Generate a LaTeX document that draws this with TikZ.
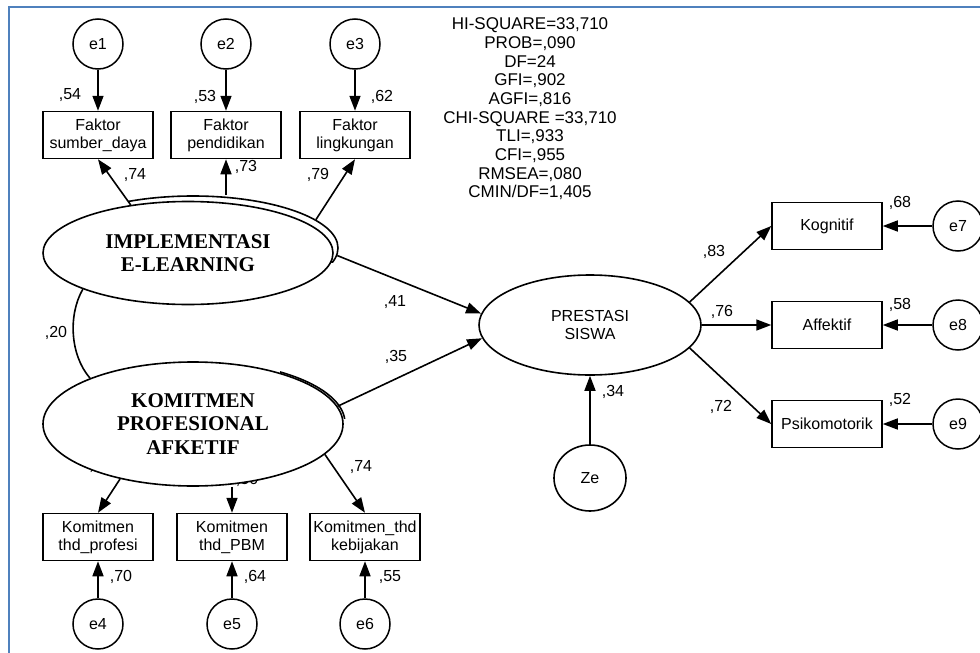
\documentclass[tikz,border=0pt]{standalone}
\usepackage{fontspec}
\setmainfont{Liberation Sans}
\newfontfamily\serifbf{Liberation Serif}
\usetikzlibrary{arrows.meta,shapes.geometric}
\definecolor{frameblue}{RGB}{79,129,189}
\begin{document}
\begin{tikzpicture}[x=1pt,y=-1pt,
 obs/.style={draw,line width=1.5pt,rectangle,minimum width=110pt,minimum height=47pt,inner sep=0pt,align=center,font=\fontsize{16}{18}\selectfont},
 err/.style={draw,line width=1.5pt,circle,minimum size=50pt,inner sep=0pt,font=\fontsize{16}{18}\selectfont},
 lat/.style={draw,line width=1.6pt,ellipse,inner sep=0pt,align=center,fill=white},
 latfont/.style={font=\serifbf\bfseries\fontsize{21}{23.5}\selectfont},
 lab/.style={font=\fontsize{16}{18}\selectfont,inner sep=0pt},
 arr/.style={line width=1.6pt,-{Triangle[length=15pt,width=11pt]}},
 con/.style={line width=1.6pt},
]
\useasboundingbox (0,0) rectangle (980,653);
\draw[frameblue,line width=2.5pt] (9,653) -- (9,7) -- (980,7);

% statistics
\node[align=center,inner sep=0pt,font=\fontsize{17}{18.67}\selectfont] (stats) at (530,109)
 {HI-SQUARE=33,710\\PROB=,090\\DF=24\\GFI=,902\\AGFI=,816\\CHI-SQUARE =33,710\\TLI=,933\\CFI=,955\\RMSEA=,080\\CMIN/DF=1,405};

% labels partly hidden under the KOMITMEN ellipse
\node[lab,anchor=base west] (h1) at (89,470) {,84};
\node[lab,anchor=base] (h2) at (247,484) {,56};

% error terms
\node[err] (e1) at (98,44) {e1};
\node[err] (e2) at (226,44) {e2};
\node[err] (e3) at (355,44) {e3};
\node[err] (e4) at (98,624) {e4};
\node[err] (e5) at (232,624) {e5};
\node[err] (e6) at (365,624) {e6};
\node[err] (e7) at (958,226) {e7};
\node[err] (e8) at (958,325) {e8};
\node[err] (e9) at (958,424) {e9};

% observed variables
\node[obs] (b1) at (98,135) {Faktor\\sumber\_daya};
\node[obs] (b2) at (226,135) {Faktor\\pendidikan};
\node[obs] (b3) at (355,135) {Faktor\\lingkungan};
\node[obs] (b4) at (98,537) {Komitmen\\thd\_profesi};
\node[obs] (b5) at (232,537) {Komitmen\\thd\_PBM};
\node[obs] (b6) at (365,537) {Komitmen\_thd\\kebijakan};
\node[obs] (kog) at (827,226) {Kognitif};
\node[obs] (aff) at (827,325) {Affektif};
\node[obs] (psi) at (827,424) {Psikomotorik};

% latent variables
\begin{scope}
\clip (128,180) rectangle (345,262);
\node[lat,fill=none,minimum width=290pt,minimum height=104pt] (implB) at (193,248) {};
\end{scope}
\node[lat,latfont,minimum width=290pt,minimum height=103pt] (impl) at (188,253) {IMPLEMENTASI\\E-LEARNING};
\begin{scope}
\clip (280,350) rectangle (350,418);
\node[lat,fill=none,minimum width=300pt,minimum height=124pt] (komitB) at (195,423) {};
\end{scope}
\node[lat,latfont,minimum width=300pt,minimum height=124pt] (komit) at (193,424) {KOMITMEN\\PROFESIONAL\\AFKETIF};
\node[lat,font=\fontsize{16}{18}\selectfont,minimum width=222pt,minimum height=100pt] (prest) at (590,325) {PRESTASI\\SISWA};
\node[lat,font=\fontsize{16}{18}\selectfont,minimum width=72pt,minimum height=66pt] (ze) at (590,478) {Ze};

% error arrows
\draw[arr] (e1) -- (b1);
\draw[arr] (e2) -- (b2);
\draw[arr] (e3) -- (b3);
\draw[arr] (e4) -- (b4);
\draw[arr] (e5) -- (b5);
\draw[arr] (e6) -- (b6);
\draw[arr] (e7) -- (kog);
\draw[arr] (e8) -- (aff);
\draw[arr] (e9) -- (psi);
\draw[arr] (ze) -- (prest);

% loadings
\draw[arr] (impl.140) -- (b1.south);
\draw[arr] (b2.south |- implB.north) -- (b2.south);
\draw[arr] (implB.13) -- (b3.south);
\draw[arr] (komit.217) -- (b4.north);
\draw[arr] (b5.north |- komit.south) -- (b5.north);
\draw[arr] (komit.-13) -- (b6.north);
\draw[arr] (prest.13) -- (kog.west);
\draw[arr] (prest.east) -- (aff.west);
\draw[arr] (prest.-13) -- (psi.west);

% structural paths
\draw[arr] (implB.-3) -- (prest.174);
\draw[arr] (komit.7) -- (prest.187);

% covariance
\draw[con] (impl.199) .. controls (68,315) and (70,355) .. (komit.156);

% labels
\node[lab] (l54) at (70,95) {,54};
\node[lab] (l53) at (205,97) {,53};
\node[lab] (l62) at (382,97) {,62};
\node[lab] (l74a) at (135,175) {,74};
\node[lab] (l73) at (246,167) {,73};
\node[lab] (l79) at (318,175) {,79};
\node[lab] (l41) at (395,302) {,41};
\node[lab] (l35) at (396,357) {,35};
\node[lab] (l20) at (56,333) {,20};
\node[lab] (l74b) at (361,467) {,74};
\node[lab] (l70) at (121,577) {,70};
\node[lab] (l64) at (255,577) {,64};
\node[lab] (l55) at (390,577) {,55};
\node[lab] (l34) at (613,392) {,34};
\node[lab] (l83) at (714,252) {,83};
\node[lab] (l76) at (722,312) {,76};
\node[lab] (l72) at (721,407) {,72};
\node[lab] (l68) at (900,203) {,68};
\node[lab] (l58) at (900,305) {,58};
\node[lab] (l52) at (900,400) {,52};
\end{tikzpicture}
\end{document}
